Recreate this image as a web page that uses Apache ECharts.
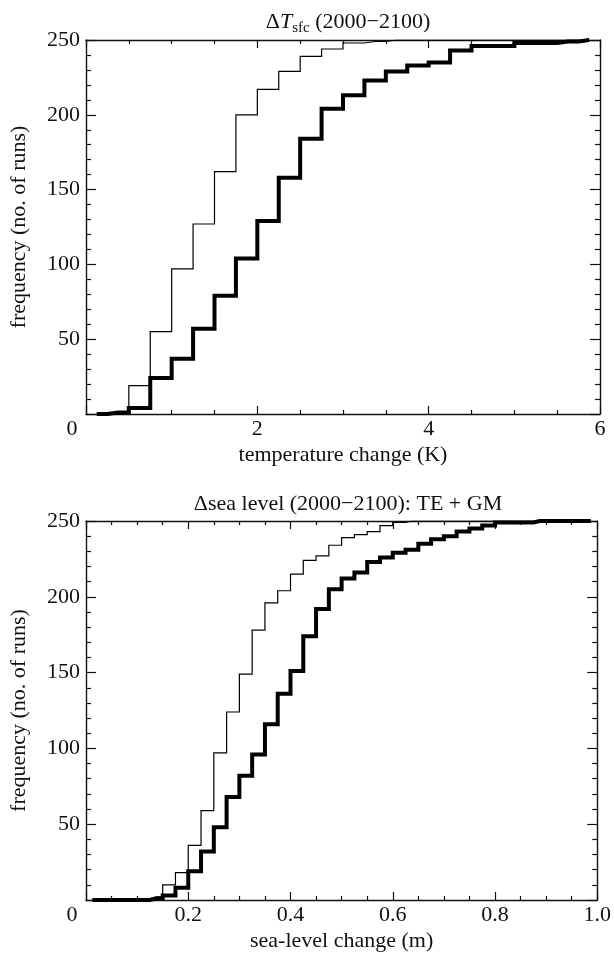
<!DOCTYPE html>
<html>
<head>
<meta charset="utf-8">
<script src="https://cdn.jsdelivr.net/npm/echarts@6/dist/echarts.min.js"></script>
<style>
  html, body { margin: 0; padding: 0; background: #fff; }
  #main { width: 614px; height: 954px; }
</style>
</head>
<body>
<div id="main"></div>
<script>
// temperature change histogram (cumulative), bin centres in K
const tempBins = [0.125, 0.375, 0.625, 0.875, 1.125, 1.375, 1.625, 1.875, 2.125, 2.375, 2.625, 2.875,
  3.125, 3.375, 3.625, 3.875, 4.125, 4.375, 4.625, 4.875, 5.125, 5.375, 5.625, 5.875];
const tempThin = [0, 1, 19, 55, 97, 127, 162, 200, 217, 229, 239, 244,
  248, 249, 250, 250, 250, 250, 250, 250, 250, 250, 250, 250];
const tempThick = [0, 1, 4, 24, 37, 57, 79, 104, 129, 158, 184, 204,
  213, 223, 229, 233, 235, 243, 246, 246, 248, 248, 249, 250];

// sea-level change histogram (cumulative), bin centres in m
const seaBins = [0.0125, 0.0375, 0.0625, 0.0875, 0.1125, 0.1375, 0.1625, 0.1875, 0.2125, 0.2375,
  0.2625, 0.2875, 0.3125, 0.3375, 0.3625, 0.3875, 0.4125, 0.4375, 0.4625, 0.4875,
  0.5125, 0.5375, 0.5625, 0.5875, 0.6125, 0.6375, 0.6625, 0.6875, 0.7125, 0.7375,
  0.7625, 0.7875, 0.8125, 0.8375, 0.8625, 0.8875, 0.9125, 0.9375, 0.9625, 0.9875];
const seaThin = [0, 0, 0, 0, 1, 2, 10, 18, 36, 59,
  97, 124, 149, 178, 196, 204, 215, 224, 227, 234,
  239, 241, 243, 247, 249, 250, 250, 250, 250, 250,
  250, 250, 250, 250, 250, 250, 250, 250, 250, 250];
const seaThick = [0, 0, 0, 0, 0, 1, 3, 8, 19, 32,
  48, 68, 82, 96, 116, 136, 151, 174, 192, 205,
  212, 216, 223, 226, 229, 231, 235, 238, 240, 243,
  245, 247, 249, 249, 249, 250, 250, 250, 250, 250];

const font = "'Liberation Serif', 'DejaVu Serif', serif";
const ink = '#111';
const fs = 22;

function pairs(xs, ys) {
  return xs.map((x, i) => [x, ys[i]]);
}

function xAxes(gridIndex, max, interval, fmt, name) {
  const common = {
    type: 'value', gridIndex: gridIndex, min: 0, max: max, interval: interval,
    splitLine: { show: false },
    axisLine: { show: true, onZero: false, lineStyle: { color: ink, width: 1.4 } },
    axisTick: { show: true, inside: true, length: 8, lineStyle: { color: ink, width: 1.2 } },
    minorTick: { show: true, splitNumber: 4, length: 4, lineStyle: { color: ink, width: 1.2 } }
  };
  return [
    Object.assign({}, common, {
      position: 'bottom',
      name: name, nameLocation: 'middle', nameGap: 30,
      nameTextStyle: { fontFamily: font, fontSize: fs, color: ink },
      axisLabel: {
        margin: 4, fontFamily: font, fontSize: fs, color: ink,
        formatter: fmt,
        rich: { z: { fontFamily: font, fontSize: fs, color: ink, padding: [0, 28, 0, 0] } }
      }
    }),
    Object.assign({}, common, { position: 'top', axisLabel: { show: false } })
  ];
}

function yAxes(gridIndex) {
  const common = {
    type: 'value', gridIndex: gridIndex, min: 0, max: 250, interval: 50,
    splitLine: { show: false },
    axisLine: { show: true, onZero: false, lineStyle: { color: ink, width: 1.4 } },
    axisTick: { show: true, inside: true, length: 10, lineStyle: { color: ink, width: 1.2 } },
    minorTick: { show: true, splitNumber: 5, length: 5, lineStyle: { color: ink, width: 1.2 } }
  };
  return [
    Object.assign({}, common, {
      position: 'left',
      name: 'frequency (no. of runs)', nameLocation: 'middle', nameGap: 56, nameRotate: 90,
      nameTextStyle: { fontFamily: font, fontSize: fs, color: ink },
      axisLabel: {
        margin: 6, fontFamily: font, fontSize: fs, color: ink,
        formatter: v => (v === 0 ? '' : String(v))
      }
    }),
    Object.assign({}, common, { position: 'right', axisLabel: { show: false } })
  ];
}

function step(name, xi, yi, data, width) {
  return {
    name: name, type: 'line', step: 'middle', xAxisIndex: xi, yAxisIndex: yi,
    data: data, showSymbol: false, symbol: 'none', animation: false,
    lineStyle: { color: '#000', width: width, join: 'miter' }
  };
}

const chart = echarts.init(document.getElementById('main'), null, { renderer: 'canvas' });

const titleRich = {
  n: { fontFamily: font, fontSize: fs, fontWeight: 'normal', color: ink },
  i: { fontFamily: font, fontSize: fs, fontWeight: 'normal', color: ink, fontStyle: 'italic' },
  s: { fontFamily: font, fontSize: 15, fontWeight: 'normal', color: ink, padding: [12, 0, 0, 0] }
};

chart.setOption({
  backgroundColor: '#fff',
  animation: false,
  title: [
    {
      text: '{n|Δ}{i|T}{s|sfc}{n| (2000−2100)}',
      left: 343, top: 4, textAlign: 'center',
      textStyle: { fontWeight: 'normal', rich: titleRich }
    },
    {
      text: 'Δsea level (2000−2100): TE + GM',
      left: 343, top: 488, textAlign: 'center',
      textStyle: { fontFamily: font, fontSize: fs, fontWeight: 'normal', color: ink }
    }
  ],
  grid: [
    { left: 86, right: 14, top: 40, height: 374 },
    { left: 86, right: 14, top: 521, height: 379 }
  ],
  xAxis: [].concat(
    xAxes(0, 6, 2, v => (v === 0 ? '{z|0}' : String(v)), 'temperature change (K)'),
    xAxes(1, 1, 0.2, v => (v === 0 ? '{z|0}' : v.toFixed(1)), 'sea-level change (m)')
  ),
  yAxis: [].concat(yAxes(0), yAxes(1)),
  series: [
    step('temp thin', 0, 0, pairs(tempBins, tempThin), 1.2),
    step('temp thick', 0, 0, pairs(tempBins, tempThick), 4),
    step('sea thin', 2, 2, pairs(seaBins, seaThin), 1.2),
    step('sea thick', 2, 2, pairs(seaBins, seaThick), 4)
  ]
});
</script>
</body>
</html>
